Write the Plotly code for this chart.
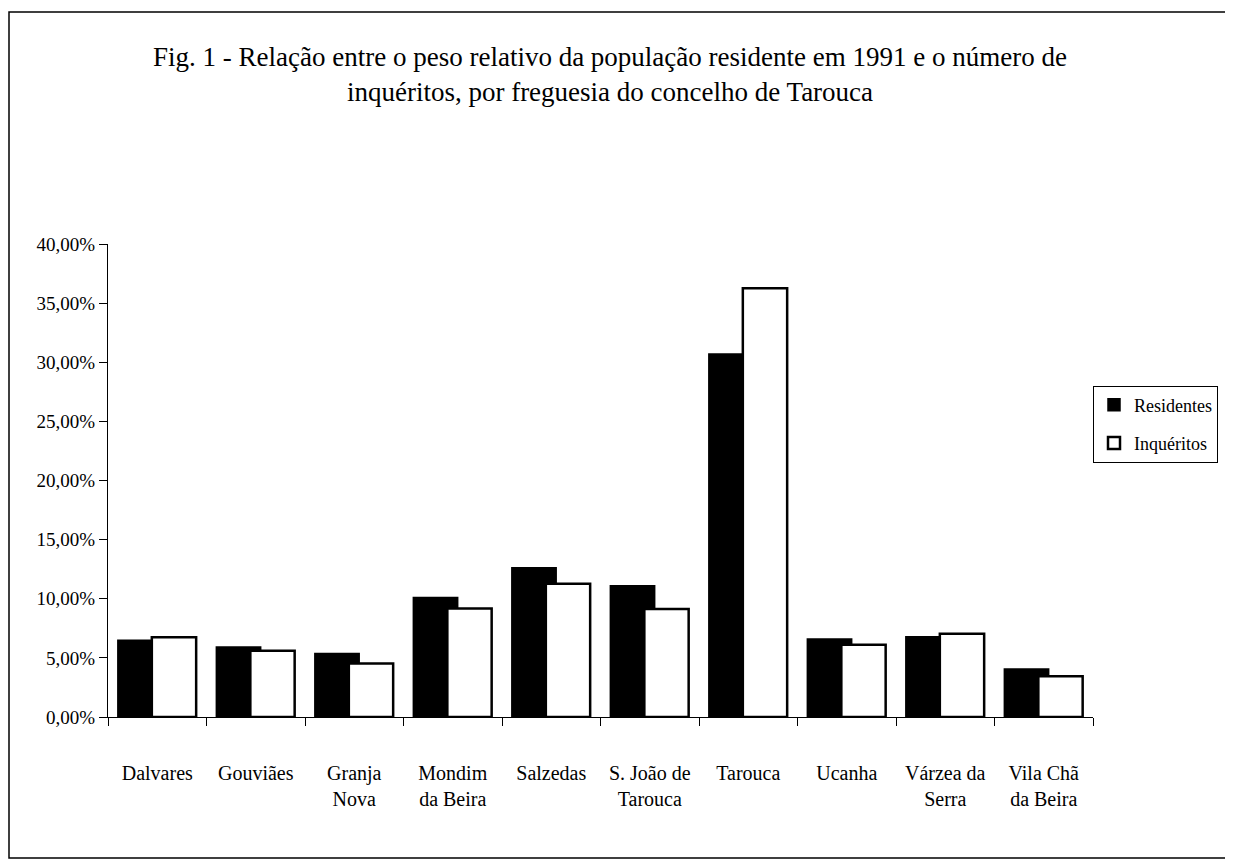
import plotly.graph_objects as go

categories = ["Dalvares", "Gouviães", "Granja<br>Nova", "Mondim<br>da Beira", "Salzedas",
              "S. João de<br>Tarouca", "Tarouca", "Ucanha", "Várzea da<br>Serra", "Vila Chã<br>da Beira"]
residentes = [6.50, 5.93, 5.36, 10.10, 12.63, 11.09, 30.70, 6.60, 6.78, 4.06]
inqueritos = [6.75, 5.60, 4.53, 9.17, 11.26, 9.14, 36.25, 6.10, 7.03, 3.44]
series_names = ["Residentes", "Inquéritos"]

FONT = "Liberation Serif"

# page body has an 8px margin, so the figure is 8px smaller and offset
W, H = 1225, 854
L, T = 100, 236
PW, PH = 985, 473

fig = go.Figure()
fig.add_trace(go.Bar(
    x=categories, y=[v / 100 for v in residentes], name=series_names[0],
    marker=dict(color="black", line=dict(color="black", width=1.5)),
    offset=-0.40, width=0.45, legendgroup="res",
))
fig.add_trace(go.Bar(
    x=categories, y=[v / 100 for v in inqueritos], name=series_names[1],
    marker=dict(color="white", line=dict(color="black", width=2.5)),
    offset=-0.055, width=0.45, legendgroup="inq",
))

fig.update_layout(
    width=W, height=H,
    margin=dict(l=L, r=W - L - PW, t=T, b=H - T - PH, pad=0),
    paper_bgcolor="white", plot_bgcolor="white",
    barmode="overlay",
    separators=",.",
    font=dict(family=FONT, color="black", size=20),
    title=dict(
        text="Fig. 1 - Relação entre o peso relativo da população residente em 1991 e o número de<br>inquéritos, por freguesia do concelho de Tarouca",
        x=602 / W, xanchor="center", y=1 - 58 / H, yanchor="top",
        font=dict(family=FONT, size=27, color="black"),
    ),
    showlegend=True,
    legend=dict(
        x=1.0, xanchor="left", y=(PH - (424 - 8 - T)) / PH, yanchor="middle",
        bordercolor="black", borderwidth=1, bgcolor="white",
        font=dict(family=FONT, size=18, color="black"),
        traceorder="grouped", tracegroupgap=12, itemwidth=30,
    ),
    xaxis=dict(
        showline=True, linecolor="black", linewidth=1,
        ticks="outside", ticklen=8, tickcolor="black", tickson="boundaries",
        showgrid=False, ticklabelstandoff=38,
        tickfont=dict(family=FONT, size=20, color="black"),
    ),
    yaxis=dict(
        range=[0, 0.40], dtick=0.05, tick0=0, tickformat=".2%",
        showline=True, linecolor="black", linewidth=1,
        ticks="outside", ticklen=8, tickcolor="black",
        showgrid=False, zeroline=False,
        tickfont=dict(family=FONT, size=19, color="black"),
    ),
    shapes=[dict(
        type="rect", xref="paper", yref="paper",
        x0=(1 - L) / PW, x1=(1221 - L) / PW,
        y0=(PH + T - 850) / PH, y1=(PH + T - 4) / PH,
        line=dict(color="black", width=1.5), fillcolor="rgba(0,0,0,0)", layer="below",
    )],
)

fig.write_html("out.html")
